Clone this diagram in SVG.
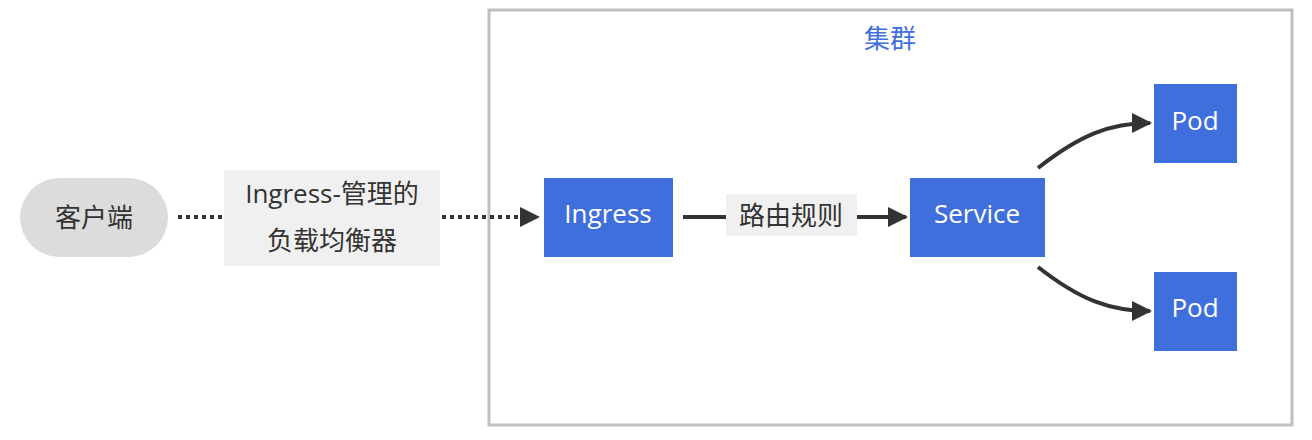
<svg xmlns="http://www.w3.org/2000/svg" width="1312" height="440" viewBox="0 0 1312 440">
<style>
text{font-family:"Open Sans","Noto Sans CJK SC",sans-serif;font-size:26px;text-anchor:middle;dominant-baseline:central}
.k8s{fill:#3f6fdc}
.wt{fill:#fff}
.dk{fill:#333}
.ln{stroke:#333;stroke-width:4;fill:none}
</style>
<defs><marker id="ah" viewBox="0 0 10 10" refX="9" refY="5" markerWidth="5" markerHeight="5" orient="auto"><path d="M0,0L10,5L0,10z" fill="#333"/></marker></defs>
<rect fill="#fff" width="1312" height="440"/>
<g id="cluster"><rect x="489" y="10" width="803" height="415" fill="#fff" stroke="#c0c0c0" stroke-width="3"/><text x="890" y="38" fill="#3f6fdc">集群</text></g>
<g id="connectors">
<path class="ln" d="M178,217H538" stroke-dasharray="4,4" marker-end="url(#ah)"/>
<rect x="224" y="170" width="216" height="96" fill="#f0f0f0"/>
<text x="332" y="193" class="dk">Ingress-管理的</text>
<text x="332" y="240" class="dk">负载均衡器</text>
<path class="ln" d="M683,217H906" marker-end="url(#ah)"/>
<rect x="726" y="194" width="131" height="42" fill="#f0f0f0"/>
<text x="791" y="215" class="dk">路由规则</text>
<path class="ln" d="M1038,168C1080,135 1110,123 1150,123" marker-end="url(#ah)"/>
<path class="ln" d="M1038,267C1080,300 1110,311 1150,311" marker-end="url(#ah)"/>
</g>
<g id="client"><rect x="20" y="178" width="148" height="79" rx="39.5" fill="#dcdcdc"/><text x="94" y="217" class="dk">客户端</text></g>
<g id="ingress"><rect class="k8s" x="544" y="178" width="129" height="79"/><text class="wt" x="608" y="213">Ingress</text></g>
<g id="service"><rect class="k8s" x="910" y="178" width="135" height="79"/><text class="wt" x="977" y="213">Service</text></g>
<g id="pod1"><rect class="k8s" x="1154" y="84" width="83" height="79"/><text class="wt" x="1195" y="120">Pod</text></g>
<g id="pod2"><rect class="k8s" x="1154" y="272" width="83" height="79"/><text class="wt" x="1195" y="307">Pod</text></g>
</svg>
